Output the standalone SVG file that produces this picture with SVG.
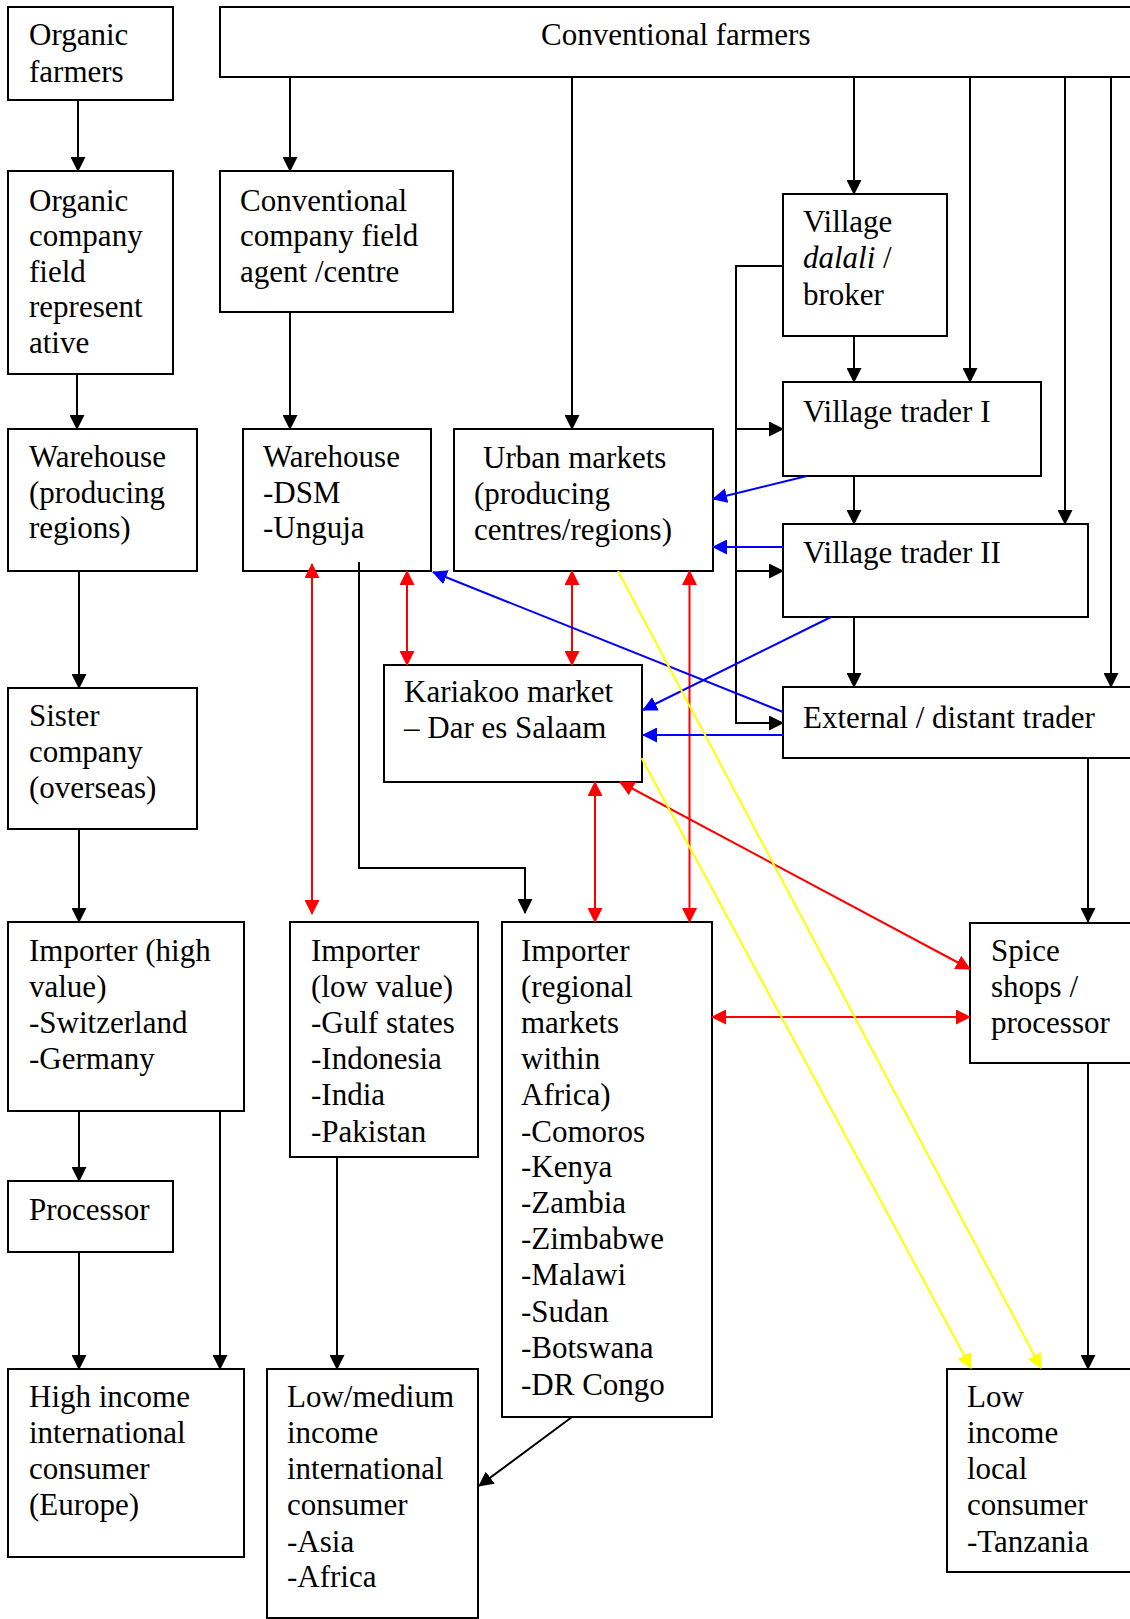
<svg xmlns="http://www.w3.org/2000/svg" width="1130" height="1619" viewBox="0 0 1130 1619">
<style>
.box{fill:#fff;stroke:#000;stroke-width:2}
text{font-family:"Liberation Serif","Times New Roman",serif;font-size:31px;fill:#000}
.k{stroke:#000;stroke-width:2;fill:none;marker-end:url(#ak)}
.r{stroke:#f00;stroke-width:2;fill:none;marker-start:url(#ar);marker-end:url(#ar)}
.b{stroke:#00f;stroke-width:2;fill:none;marker-end:url(#ab)}
.y{stroke:#ff0;stroke-width:2;fill:none;marker-end:url(#ay)}
</style>
<defs>
<marker id="ak" viewBox="0 0 15 15" refX="14" refY="7.5" markerWidth="15" markerHeight="15" markerUnits="userSpaceOnUse" orient="auto-start-reverse"><path d="M0,0L15,7.5L0,15z" fill="#000"/></marker>
<marker id="ar" viewBox="0 0 15 15" refX="14" refY="7.5" markerWidth="15" markerHeight="15" markerUnits="userSpaceOnUse" orient="auto-start-reverse"><path d="M0,0L15,7.5L0,15z" fill="#f00"/></marker>
<marker id="ab" viewBox="0 0 15 15" refX="14" refY="7.5" markerWidth="15" markerHeight="15" markerUnits="userSpaceOnUse" orient="auto-start-reverse"><path d="M0,0L15,7.5L0,15z" fill="#00f"/></marker>
<marker id="ay" viewBox="0 0 15 15" refX="14" refY="7.5" markerWidth="15" markerHeight="15" markerUnits="userSpaceOnUse" orient="auto-start-reverse"><path d="M0,0L15,7.5L0,15z" fill="#ff0"/></marker>
</defs>
<rect width="1130" height="1619" fill="#fff"/>

<g id="organic-farmers"><rect class="box" x="8" y="7" width="165" height="93"/><text x="29" y="45">Organic</text><text x="29" y="82">farmers</text></g>
<g id="conventional-farmers"><rect class="box" x="220" y="7" width="930" height="70"/><text x="541" y="45">Conventional farmers</text></g>
<g id="organic-company"><rect class="box" x="8" y="171" width="165" height="203"/><text x="29" y="211">Organic</text><text x="29" y="246">company</text><text x="29" y="282">field</text><text x="29" y="317">represent</text><text x="29" y="353">ative</text></g>
<g id="conventional-company"><rect class="box" x="220" y="171" width="233" height="141"/><text x="240" y="211">Conventional</text><text x="240" y="246">company field</text><text x="240" y="282">agent /centre</text></g>
<g id="village-dalali"><rect class="box" x="783" y="194" width="164" height="142"/><text x="803" y="232">Village</text><text x="803" y="268"><tspan font-style="italic">dalali</tspan> /</text><text x="803" y="305">broker</text></g>
<g id="village-trader-1"><rect class="box" x="783" y="382" width="258" height="94"/><text x="803" y="422">Village trader I</text></g>
<g id="warehouse-producing"><rect class="box" x="8" y="429" width="189" height="142"/><text x="29" y="467">Warehouse</text><text x="29" y="503">(producing</text><text x="29" y="538">regions)</text></g>
<g id="warehouse-dsm"><rect class="box" x="243" y="429" width="188" height="142"/><text x="263" y="467">Warehouse</text><text x="263" y="503">-DSM</text><text x="263" y="538">-Unguja</text></g>
<g id="urban-markets"><rect class="box" x="454" y="429" width="259" height="142"/><text x="483" y="468">Urban markets</text><text x="474" y="504">(producing</text><text x="474" y="540">centres/regions)</text></g>
<g id="village-trader-2"><rect class="box" x="783" y="524" width="305" height="93"/><text x="803" y="563">Village trader II</text></g>
<g id="sister-company"><rect class="box" x="8" y="688" width="189" height="141"/><text x="29" y="726">Sister</text><text x="29" y="762">company</text><text x="29" y="798">(overseas)</text></g>
<g id="kariakoo"><rect class="box" x="384" y="665" width="258" height="117"/><text x="404" y="702">Kariakoo market</text><text x="404" y="738">– Dar es Salaam</text></g>
<g id="external-trader"><rect class="box" x="783" y="687" width="360" height="71"/><text x="803" y="728">External / distant trader</text></g>
<g id="importer-high"><rect class="box" x="8" y="922" width="236" height="189"/><text x="29" y="961">Importer (high</text><text x="29" y="997">value)</text><text x="29" y="1033">-Switzerland</text><text x="29" y="1069">-Germany</text></g>
<g id="importer-low"><rect class="box" x="290" y="922" width="188" height="235"/><text x="311" y="961">Importer</text><text x="311" y="997">(low value)</text><text x="311" y="1033">-Gulf states</text><text x="311" y="1069">-Indonesia</text><text x="311" y="1105">-India</text><text x="311" y="1142">-Pakistan</text></g>
<g id="importer-regional"><rect class="box" x="502" y="922" width="210" height="495"/><text x="521" y="961">Importer</text><text x="521" y="997">(regional</text><text x="521" y="1033">markets</text><text x="521" y="1069">within</text><text x="521" y="1105">Africa)</text><text x="521" y="1142">-Comoros</text><text x="521" y="1177">-Kenya</text><text x="521" y="1213">-Zambia</text><text x="521" y="1249">-Zimbabwe</text><text x="521" y="1285">-Malawi</text><text x="521" y="1322">-Sudan</text><text x="521" y="1358">-Botswana</text><text x="521" y="1395">-DR Congo</text></g>
<g id="spice-shops"><rect class="box" x="970" y="923" width="170" height="140"/><text x="991" y="961">Spice</text><text x="991" y="997">shops /</text><text x="991" y="1033">processor</text></g>
<g id="processor"><rect class="box" x="8" y="1181" width="165" height="71"/><text x="29" y="1220">Processor</text></g>
<g id="high-income"><rect class="box" x="8" y="1369" width="236" height="188"/><text x="29" y="1407">High income</text><text x="29" y="1443">international</text><text x="29" y="1479">consumer</text><text x="29" y="1515">(Europe)</text></g>
<g id="low-medium"><rect class="box" x="267" y="1369" width="211" height="249"/><text x="287" y="1407">Low/medium</text><text x="287" y="1443">income</text><text x="287" y="1479">international</text><text x="287" y="1515">consumer</text><text x="287" y="1552">-Asia</text><text x="287" y="1587">-Africa</text></g>
<g id="low-income"><rect class="box" x="947" y="1369" width="200" height="203"/><text x="967" y="1407">Low</text><text x="967" y="1443">income</text><text x="967" y="1479">local</text><text x="967" y="1515">consumer</text><text x="967" y="1552">-Tanzania</text></g>

<g id="connectors">
<path class="k" d="M78,100V171"/>
<path class="k" d="M77,374V429"/>
<path class="k" d="M79,571V688"/>
<path class="k" d="M79,829V922"/>
<path class="k" d="M79,1111V1181"/>
<path class="k" d="M79,1252V1369"/>
<path class="k" d="M220,1111V1369"/>
<path class="k" d="M290,77V171"/>
<path class="k" d="M290,312V429"/>
<path class="k" d="M337,1157V1369"/>
<path class="k" d="M572,77V429"/>
<path class="k" d="M854,77V194"/>
<path class="k" d="M970,77V382"/>
<path class="k" d="M1065,77V524"/>
<path class="k" d="M1111,77V687"/>
<path class="k" d="M854,336V382"/>
<path class="k" d="M854,476V524"/>
<path class="k" d="M854,617V687"/>
<path class="k" d="M783,266H736V723H783"/>
<path class="k" d="M736,429H783"/>
<path class="k" d="M736,571H783"/>
<path class="k" d="M359,562V868H525V913"/>
<path class="k" d="M1088,758V922"/>
<path class="k" d="M1088,1063V1369"/>
<path class="k" d="M572,1417L479,1486"/>
<path class="r" d="M312,564V914"/>
<path class="r" d="M407,571V665"/>
<path class="r" d="M572,571V665"/>
<path class="r" d="M595,782V922"/>
<path class="r" d="M689.5,571V922"/>
<path class="r" d="M620,782L970,969"/>
<path class="r" d="M712,1017H970"/>
<path class="b" d="M807,476L713,499"/>
<path class="b" d="M783,547H713"/>
<path class="b" d="M783,712L433,572"/>
<path class="b" d="M831,617L643,710"/>
<path class="b" d="M783,735H643"/>
<path class="y" d="M618,571L1041,1368"/>
<path class="y" d="M641.5,758L971,1368"/>
</g>
</svg>
